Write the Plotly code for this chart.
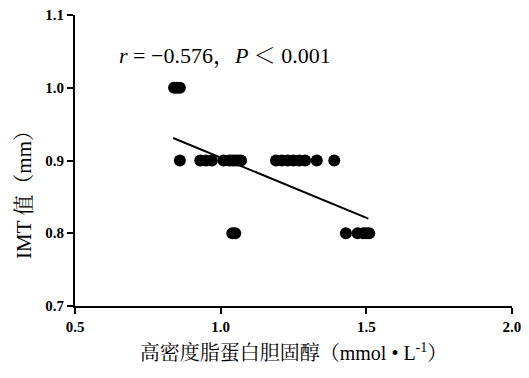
import plotly.graph_objects as go

# Scatter data (HDL-C vs IMT)
x_10 = [0.84, 0.85, 0.86]
y_10 = [1.0, 1.0, 1.0]
x_09 = [0.86, 0.93, 0.95, 0.97, 1.01, 1.03, 1.04, 1.05, 1.06, 1.07,
        1.19, 1.21, 1.23, 1.25, 1.27, 1.29, 1.33, 1.39]
y_09 = [0.9] * len(x_09)
x_08 = [1.04, 1.05, 1.43, 1.47, 1.49, 1.50, 1.51]
y_08 = [0.8] * len(x_08)

fit_x = [0.837, 1.507]
fit_y = [0.931, 0.820]

xs = x_10 + x_09 + x_08
ys = y_10 + y_09 + y_08

x_ticks = [0.5, 1.0, 1.5, 2.0]
x_tick_labels = ["0.5", "1.0", "1.5", "2.0"]
y_ticks = [0.7, 0.8, 0.9, 1.0, 1.1]
y_tick_labels = ["0.7", "0.8", "0.9", "1.0", "1.1"]

serif = "Liberation Serif, Times New Roman, Noto Serif CJK SC, Noto Sans CJK SC, serif"

fig = go.Figure()
fig.add_trace(go.Scatter(x=xs, y=ys, mode="markers",
                         marker=dict(color="black", size=12, line=dict(width=0)),
                         showlegend=False, cliponaxis=False))
fig.add_trace(go.Scatter(x=fit_x, y=fit_y, mode="lines",
                         line=dict(color="black", width=2),
                         showlegend=False))

fig.add_annotation(x=0.095, y=0.86, xref="paper", yref="paper",
                   xanchor="left", yanchor="middle", showarrow=False,
                   text="<i>r</i> = −0.576，<i>P</i> ＜ 0.001",
                   font=dict(family=serif, size=22, color="black"))

# y-axis title placed as rotated text
fig.add_annotation(x=-0.118, y=0.40, xref="paper", yref="paper",
                   xanchor="center", yanchor="middle", showarrow=False,
                   textangle=-90, text="IMT 值（mm）",
                   font=dict(family=serif, size=21, color="black"))

fig.update_layout(
    width=521, height=370,
    margin=dict(l=67, r=17, t=7, b=72, autoexpand=False),
    paper_bgcolor="white", plot_bgcolor="white",
    font=dict(family=serif, color="black"),
    xaxis=dict(range=[0.5, 2.0001], tickvals=x_ticks, ticktext=x_tick_labels,
               showline=True, linecolor="black", linewidth=2,
               ticks="outside", ticklen=6, tickwidth=2, tickcolor="black",
               showgrid=False, zeroline=False, automargin=False,
               ticklabeloverflow="allow",
               tickfont=dict(family=serif, size=15, color="black", weight="bold"),
               title=dict(text="高密度脂蛋白胆固醇（mmol • L<sup>-1</sup>）",
                          font=dict(family=serif, size=20, color="black"),
                          standoff=12)),
    yaxis=dict(range=[0.6999, 1.1001], tickvals=y_ticks, ticktext=y_tick_labels,
               showline=True, linecolor="black", linewidth=2,
               ticks="outside", ticklen=6, tickwidth=2, tickcolor="black",
               showgrid=False, zeroline=False, automargin=False,
               ticklabeloverflow="allow",
               tickfont=dict(family=serif, size=15, color="black", weight="bold")),
)

fig.write_html("out.html")
